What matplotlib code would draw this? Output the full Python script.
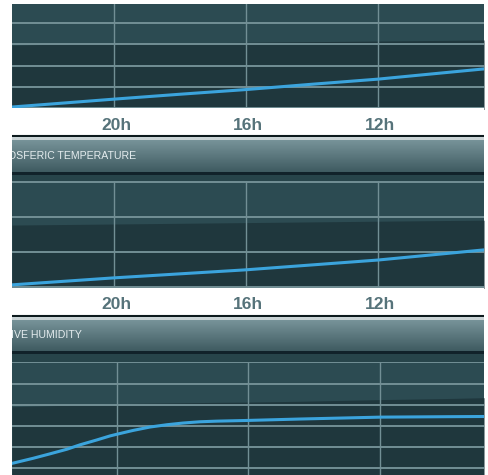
import numpy as np
import matplotlib
matplotlib.use("Agg")
import matplotlib.pyplot as plt

plt.rcParams['font.family'] = ['Liberation Sans', 'DejaVu Sans']

# x axis: hours, running backwards from left to right
tick_hours = [20, 16, 12]
tick_labels = ['20h', '16h', '12h']

# panel 1 (top, title cut off above)
p1_hours = [23.09, 22, 20, 18, 16, 14, 12, 10, 8.79]
p1_vals = [0.05, 0.18, 0.42, 0.65, 0.87, 1.12, 1.36, 1.66, 1.84]
p1_band = [2.96, 2.99, 3.02, 3.06, 3.09, 3.12, 3.15, 3.18, 3.2]

# panel 2: atmosferic temperature
p2_hours = [23.09, 20, 16, 12, 8.79]
p2_vals = [0.06, 0.26, 0.49, 0.77, 1.06]
p2_band = [1.77, 1.80, 1.84, 1.88, 1.91]

# panel 3: relative humidity
p3_hours = [23.19, 22.55, 22.04, 21.52, 21.12, 20.61, 20.21, 20, 19.51, 19.0,
            18.48, 17.99, 17.48, 16.96, 16.11, 14.44, 11.98, 10, 8.84]
p3_vals = [0.22, 0.46, 0.67, 0.89, 1.10, 1.33, 1.52, 1.60, 1.78, 1.94,
           2.05, 2.13, 2.19, 2.22, 2.25, 2.32, 2.41, 2.43, 2.44]
p3_band = [2.9, 2.93, 2.95, 2.97, 2.99, 3.01, 3.03, 3.04, 3.06, 3.07,
           3.08, 3.09, 3.1, 3.11, 3.12, 3.16, 3.24, 3.29, 3.33]

headers = ['OSFERIC TEMPERATURE', 'IVE HUMIDITY']

W, H = 489, 475
fig = plt.figure(figsize=(W/100, H/100), dpi=100, facecolor='white')

LIGHT = '#2c4b52'
DARK = '#1f373d'
GRID = '#728f95'
BLUE = '#3ba4dd'


def box(y0, y1, x0=12, x1=484):
    ax = fig.add_axes([x0/W, 1 - y1/H, (x1 - x0)/W, (y1 - y0)/H])
    for s in ax.spines.values():
        s.set_visible(False)
    ax.set_xticks([])
    ax.set_yticks([])
    return ax


def gradient(ax, c_top, c_bot):
    c1 = np.array(matplotlib.colors.to_rgb(c_top))
    c2 = np.array(matplotlib.colors.to_rgb(c_bot))
    t = np.linspace(0, 1, 64)[:, None]
    img = (c1 * (1 - t) + c2 * t)[:, None, :]
    ax.imshow(img, aspect='auto', extent=[0, 1, 0, 1], interpolation='bilinear')
    ax.set_xlim(0, 1)
    ax.set_ylim(0, 1)


def panel(y0, y1, xlim, ylim, ygrid, hours, vals, band):
    ax = box(y0, y1)
    ax.set_facecolor(LIGHT)
    ax.set_xlim(*xlim)
    ax.set_ylim(*ylim)
    ax.fill_between(hours, ylim[0] - 1, band, color=DARK, lw=0)
    for g in ygrid:
        ax.axhline(g, color=GRID, lw=1.4, zorder=2)
    for h in tick_hours:
        ax.axvline(h, color=GRID, lw=1.0, zorder=2)
    ax.plot(hours, vals, color=BLUE, lw=2.2, zorder=3, solid_capstyle='round')
    return ax


def tick_strip(y0, y1, xlim, label_y):
    ax = box(y0, y1)
    gradient(ax, '#26434a', '#1d3439')
    ax.set_xlim(*xlim)
    for h, lab in zip(tick_hours, tick_labels):
        ax.text(h - 0.07, label_y, lab, color='#56737a', fontsize=12.5,
                fontweight='bold', ha='center', va='center')
    ax.axhline(0.05, color='#0d1a1d', lw=1.5)


def header(y0, y1, text, x):
    ax = box(y0, y1)
    gradient(ax, '#779399', '#3f5b61')
    ax.text(x, 0.5, text, color='#e4ecee', fontsize=7.6,
            ha='left', va='center', clip_on=True)


xlim12 = (23.09, 8.79)
xlim3 = (23.19, 8.84)

# panel 1
panel(4, 108.5, xlim12, (-0.02, 4.89), [0, 1, 2, 3, 4], p1_hours, p1_vals, p1_band)
tick_strip(108.5, 137, xlim12, 0.42)
box(137, 140).set_facecolor('#c9d3d5')
header(140, 172, headers[0], -0.009)
box(172, 182).set_facecolor('#27444a')
b = box(172, 175); b.set_facecolor('#11222a')

# panel 2
panel(181, 288, xlim12, (-0.03, 3.03), [0, 1, 2, 3], p2_hours, p2_vals, p2_band)
tick_strip(288, 317, xlim12, 0.42)
box(317, 320).set_facecolor('#c9d3d5')
header(320, 351, headers[1], -0.002)
box(351, 363).set_facecolor('#27444a')
b = box(351, 354); b.set_facecolor('#11222a')

# panel 3
panel(362, 475, xlim3, (-0.33, 5.02), [0, 1, 2, 3, 4, 5], p3_hours, p3_vals, p3_band)

fig.savefig('out.png', dpi=100, facecolor='white')
